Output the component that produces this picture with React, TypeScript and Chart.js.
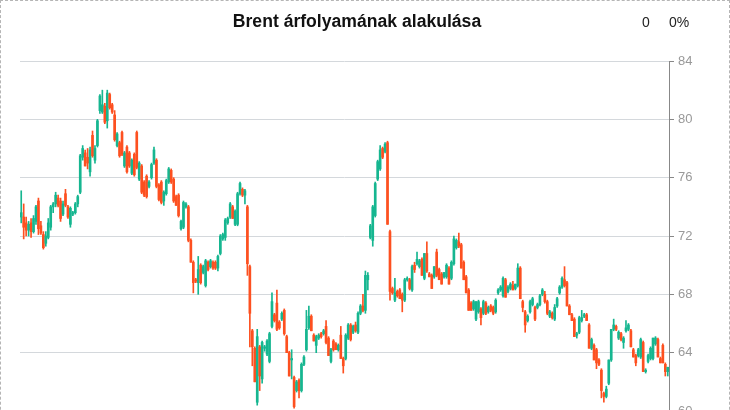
import React, { useEffect, useRef } from "react";
import { Chart, registerables } from "chart.js";

Chart.register(...registerables);

const opens = [
  73.3, 73.3, 72.9, 72.4, 72.9, 72.3, 73.0, 74.4, 72.7, 72.1,
  71.5, 71.9, 72.6, 74.0, 74.2, 74.6, 74.4, 73.5, 74.9, 74.0,
  72.8, 73.5, 73.6, 74.2, 75.0, 77.4, 77.7, 77.4, 76.4, 78.9,
  77.2, 78.2, 80.6, 80.5, 80.9, 79.9, 81.7, 81.0, 80.3,
  78.2, 78.4, 79.1, 76.8, 78.1, 77.7, 76.3, 77.6, 79.1,
  75.9, 76.8, 75.7, 76.1, 75.4, 76.0, 77.0, 77.2, 75.5, 75.7,
  74.4, 74.9, 75.7, 76.5, 75.9, 74.7, 74.8, 72.5, 72.6, 74.0,
  74.0, 71.7, 70.2, 69.0, 68.8, 70.0, 69.5, 68.6, 70.2, 69.9,
  70.2, 70.2, 69.8, 70.8, 71.8, 71.9, 72.9, 73.3, 74.0, 72.8,
  72.8, 74.9, 75.2, 74.8, 74.0, 69.9, 65.5, 64.3, 60.6, 64.4,
  62.2, 64.3, 63.9, 63.4, 65.8, 66.6, 67.4, 66.1, 66.3, 66.9,
  65.1, 64.0, 63.5, 62.3, 61.4, 62.1, 61.4, 63.2, 64.2, 65.7,
  66.5, 65.2, 64.5, 65.0, 65.3, 65.3, 65.8, 65.0, 63.4, 64.8, 64.6,
  64.2, 65.2, 63.6, 63.6, 65.0, 65.9, 65.4, 65.9, 65.4, 66.7, 67.2,
  66.9, 69.0, 71.9, 71.7, 73.4, 75.9, 76.6, 78.0, 77.8, 78.4,
  72.3, 68.4, 67.6, 68.2, 68.3, 68.0, 67.6, 69.0, 69.0, 68.3, 70.0,
  70.1, 69.9, 70.4, 69.1, 70.8, 69.4, 69.3, 69.2, 70.9, 69.7,
  69.4, 69.2, 69.2, 69.8, 69.1, 70.1, 71.2, 71.6, 71.4, 70.2,
  69.2, 68.3, 67.4, 67.0, 66.3, 66.8, 67.0, 66.7, 67.4, 66.8, 67.2,
  67.1, 66.8, 68.1, 68.3, 67.9, 69.0, 68.2, 68.4, 68.6, 68.4,
  68.6, 69.8, 67.5, 66.8, 66.2, 66.8, 67.3, 67.1, 67.1, 67.3,
  68.0, 68.0, 67.5, 66.5, 66.7, 66.3, 67.2, 68.1, 68.5, 69.0, 68.8,
  67.2, 66.6, 66.3, 65.2, 65.4, 66.2, 66.5, 66.6, 65.9, 64.3,
  64.5, 64.2, 63.5, 62.8, 61.2, 61.0, 61.9, 63.5, 65.6, 65.8,
  65.0, 65.3, 64.7, 65.5, 65.6, 65.5, 64.2, 63.8, 63.8,
  63.7, 64.7, 62.7, 63.4, 63.6, 63.6, 64.6, 64.9, 63.6,
  64.5, 63.2, 62.7,
];

const highs = [
  75.1, 74.2, 73.3, 73.0, 73.2, 73.4, 74.1, 74.6, 73.0, 72.3,
  72.3, 73.2, 74.1, 74.3, 75.0, 74.8, 74.6, 74.4, 75.2, 74.1,
  74.0, 73.7, 74.3, 74.8, 77.6, 78.2, 77.9, 78.0, 78.1, 79.2,
  78.2, 80.0, 81.7, 82.0, 81.1, 82.0, 81.8, 81.1, 80.6,
  79.1, 78.5, 79.2, 77.8, 78.2, 77.8, 77.3, 77.7, 79.2,
  77.1, 76.9, 75.8, 76.2, 75.8, 77.0, 78.1, 77.3, 75.6, 75.8,
  75.1, 75.9, 76.7, 76.6, 76.0, 74.8, 74.9, 73.1, 74.4, 74.3,
  74.1, 71.8, 70.3, 69.1, 70.6, 70.1, 70.0, 70.4, 70.3, 70.4,
  70.3, 70.3, 70.7, 72.1, 72.2, 73.2, 73.3, 74.3, 74.1, 73.8,
  75.0, 75.7, 75.3, 75.2, 74.1, 70.0, 65.6, 64.4, 65.6, 64.5,
  64.8, 64.5, 64.9, 65.4, 68.1, 66.7, 68.3, 66.2, 66.8, 67.0,
  65.2, 64.1, 64.2, 62.4, 62.1, 62.2, 63.3, 63.8, 66.9, 67.2,
  66.6, 65.3, 65.2, 65.3, 65.4, 65.6, 66.2, 65.1, 64.3, 64.9, 64.7,
  64.6, 65.8, 63.7, 65.3, 66.0, 66.0, 65.9, 66.1, 66.8, 67.3, 68.0,
  69.6, 69.5, 72.8, 74.1, 75.7, 77.2, 78.2, 78.1, 78.4, 78.5,
  72.4, 68.5, 69.1, 68.3, 68.4, 68.1, 69.1, 69.2, 69.1, 70.0, 70.2,
  70.9, 70.4, 70.5, 70.8, 71.6, 69.5, 69.4, 69.9, 71.1, 69.8,
  69.5, 69.5, 70.1, 69.9, 70.3, 72.0, 71.8, 72.2, 71.5, 70.3,
  69.3, 68.4, 67.5, 67.6, 67.5, 67.6, 67.1, 67.6, 67.5, 67.2, 67.3,
  67.2, 67.7, 68.4, 68.6, 69.2, 69.1, 68.6, 68.8, 68.9, 68.7,
  70.1, 69.9, 67.6, 66.9, 66.6, 67.6, 67.8, 67.2, 67.4, 68.0,
  68.4, 68.2, 67.6, 66.9, 66.8, 67.3, 67.8, 68.6, 69.2, 69.9, 68.9,
  67.3, 66.7, 66.4, 65.4, 66.5, 66.9, 66.7, 66.7, 66.0, 65.0,
  64.6, 64.3, 63.6, 62.9, 61.3, 61.7, 63.5, 65.6, 66.3, 65.9,
  65.5, 65.4, 65.1, 66.2, 66.0, 65.6, 64.3, 63.9, 64.3,
  65.0, 64.8, 62.9, 63.9, 64.4, 65.0, 65.1, 65.0, 63.7,
  64.6, 63.3, 63.0,
];

const lows = [
  72.9, 71.8, 72.0, 72.0, 71.9, 72.2, 72.8, 72.1, 72.1, 71.1,
  71.3, 71.8, 72.4, 73.6, 74.0, 74.0, 73.0, 73.4, 74.0, 73.2,
  72.6, 73.4, 73.5, 74.0, 74.9, 77.2, 76.8, 76.6, 76.1, 77.4,
  77.0, 78.1, 80.4, 80.4, 79.7, 79.4, 80.7, 80.4, 78.5,
  78.1, 77.4, 77.5, 76.7, 76.3, 76.7, 76.2, 76.1, 76.6,
  75.8, 74.9, 74.7, 74.6, 75.3, 75.9, 76.9, 75.3, 74.4, 74.2,
  74.1, 74.8, 75.6, 75.6, 74.3, 74.1, 73.3, 72.4, 72.5, 73.9,
  71.6, 70.2, 68.1, 68.8, 68.0, 68.7, 69.4, 68.5, 69.6, 69.8,
  69.7, 69.7, 69.6, 70.7, 71.7, 71.7, 72.8, 73.2, 73.2, 72.7,
  72.7, 74.8, 74.7, 74.2, 69.3, 64.4, 63.1, 62.0, 60.4, 61.4,
  61.9, 64.1, 63.8, 63.3, 65.7, 66.1, 65.5, 65.6, 66.2, 65.2,
  64.0, 62.4, 62.2, 60.2, 61.3, 60.9, 61.3, 63.1, 64.1, 65.6,
  65.5, 64.8, 64.0, 64.9, 65.0, 65.2, 64.6, 63.8, 63.3, 64.1, 64.2,
  64.1, 63.6, 62.6, 63.5, 64.9, 64.8, 65.3, 65.4, 65.3, 66.6, 66.8,
  66.7, 68.3, 71.8, 71.3, 73.3, 75.8, 76.5, 77.3, 77.7, 72.8,
  67.6, 68.0, 67.5, 67.8, 67.7, 66.8, 67.5, 68.9, 68.3, 68.2, 69.5,
  70.0, 69.8, 69.3, 69.0, 69.5, 69.2, 68.4, 69.1, 69.2, 69.0,
  68.7, 69.1, 69.1, 68.7, 69.0, 70.0, 71.1, 71.2, 69.8, 69.0,
  68.1, 66.9, 66.9, 66.9, 66.2, 66.7, 65.9, 66.6, 66.6, 66.7, 66.8,
  66.6, 66.7, 68.0, 68.2, 67.8, 67.8, 68.1, 68.3, 68.3, 68.3,
  68.5, 67.7, 66.8, 65.4, 66.1, 66.7, 67.2, 66.2, 67.0, 67.2,
  67.9, 67.4, 66.6, 66.4, 66.3, 66.2, 67.1, 68.0, 68.4, 68.5, 67.2,
  66.6, 66.2, 65.1, 65.0, 65.3, 66.1, 66.4, 66.2, 64.3, 64.2,
  63.5, 62.9, 63.1, 60.9, 60.6, 60.9, 61.8, 63.4, 65.5, 65.5,
  64.9, 64.8, 64.3, 65.4, 65.5, 64.4, 63.7, 63.1, 63.7,
  63.6, 62.7, 62.6, 63.3, 63.5, 63.5, 64.5, 63.7, 63.3,
  63.3, 62.4, 62.4,
];

const closes = [
  73.6, 72.6, 72.4, 72.8, 72.3, 73.2, 74.0, 72.5, 72.2, 71.2,
  72.0, 72.9, 74.0, 74.2, 74.8, 74.1, 73.2, 74.2, 74.1, 73.3,
  73.9, 73.6, 74.2, 74.7, 77.5, 78.0, 76.8, 77.0, 77.9, 77.5,
  78.0, 79.9, 81.6, 81.0, 79.8, 81.8, 80.8, 80.5, 78.6,
  79.0, 77.5, 77.6, 77.7, 76.4, 76.8, 77.2, 76.2, 76.7,
  77.0, 75.0, 74.8, 74.7, 75.7, 76.9, 77.9, 75.4, 74.5, 74.3,
  75.0, 75.8, 76.6, 75.7, 74.4, 74.1, 73.4, 73.0, 74.3, 74.2,
  71.7, 70.2, 68.8, 68.9, 69.7, 68.8, 69.9, 70.3, 69.7, 70.3,
  69.8, 69.8, 70.6, 72.0, 72.1, 73.1, 73.2, 74.2, 73.2, 73.7,
  74.9, 75.6, 74.8, 75.1, 70.1, 66.7, 64.4, 62.0, 65.1, 62.4,
  64.7, 64.4, 64.8, 65.3, 67.5, 66.2, 65.6, 65.7, 66.7, 65.3,
  64.0, 62.4, 63.6, 60.3, 62.0, 61.4, 63.2, 63.7, 65.6, 66.5,
  65.5, 64.8, 65.1, 65.2, 65.1, 65.5, 64.7, 63.8, 64.2, 64.2, 64.2,
  64.5, 63.6, 63.1, 65.2, 65.9, 64.9, 65.8, 65.5, 66.7, 67.2, 66.9,
  69.3, 69.3, 72.7, 74.0, 75.6, 77.1, 77.9, 77.4, 78.3, 72.8,
  68.2, 68.1, 68.1, 67.9, 67.7, 67.6, 69.0, 69.1, 68.4, 69.9, 69.7,
  70.4, 70.3, 69.3, 70.8, 69.6, 69.2, 68.4, 69.9, 69.3, 69.0,
  68.7, 69.5, 70.0, 68.7, 70.2, 71.8, 71.7, 71.3, 69.8, 69.0,
  68.1, 66.9, 66.9, 67.5, 67.5, 67.5, 66.4, 67.5, 66.7, 67.1, 66.9,
  66.7, 67.6, 68.3, 68.5, 69.1, 67.8, 68.5, 68.7, 68.3, 68.7,
  69.8, 67.7, 67.1, 65.9, 66.5, 67.5, 67.7, 66.3, 67.3, 67.9,
  68.3, 67.5, 66.7, 66.8, 66.4, 67.1, 67.7, 68.5, 69.1, 68.6, 67.2,
  66.6, 66.2, 65.1, 65.3, 66.4, 66.4, 66.6, 66.2, 64.3, 64.9,
  63.5, 63.3, 63.2, 61.4, 61.0, 61.5, 63.5, 65.6, 65.9, 65.6,
  65.4, 64.9, 65.0, 65.7, 65.9, 64.4, 63.7, 63.3, 64.2,
  64.9, 62.7, 62.8, 63.8, 64.3, 65.0, 65.0, 63.7, 63.3,
  63.3, 62.7, 63.0,
];

const yTicks = [60, 64, 68, 72, 76, 80, 84];
const titleText = "Brent árfolyamának alakulása";
const changeValue = "0";
const changePercent = "0%";

const UP = "#16b690";
const DOWN = "#fd5020";

export default function App() {
  const ref = useRef<HTMLCanvasElement | null>(null);

  useEffect(() => {
    if (!ref.current) return;
    const labels = opens.map((_, i) => String(i + 1));
    const colors = opens.map((o, i) => (closes[i] >= o ? UP : DOWN));
    const chart = new Chart(ref.current, {
      type: "bar",
      data: {
        labels,
        datasets: [
          {
            label: "body",
            data: opens.map((o, i) => [o, closes[i]]) as any,
            backgroundColor: colors,
            borderWidth: 0,
            barThickness: 2,
            minBarLength: 1,
            grouped: false,
          } as any,
          {
            label: "wick",
            data: lows.map((l, i) => [l, highs[i]]) as any,
            backgroundColor: colors,
            borderWidth: 0,
            barThickness: 1,
            grouped: false,
          } as any,
        ],
      },
      options: {
        animation: false,
        responsive: false,
        maintainAspectRatio: false,
        layout: { padding: { left: 20, top: 61, right: 0, bottom: 59 } },
        plugins: {
          legend: { display: false },
          title: { display: false },
          tooltip: { enabled: false },
        },
        scales: {
          x: { display: false, offset: true },
          y: {
            position: "right",
            min: 60,
            max: 84,
            afterBuildTicks: (scale: any) => {
              scale.ticks = yTicks.map((v) => ({ value: v }));
            },
            afterFit: (scale: any) => {
              scale.width = 61;
            },
            ticks: {
              color: "#999",
              padding: 4,
              font: { family: "'Liberation Sans', Arial, sans-serif", size: 13 },
            },
            grid: {
              color: "#d4d8dc",
              tickColor: "#888",
              tickLength: 5,
              lineWidth: 1,
            },
            border: { color: "#888", width: 1 },
          },
        },
      },
    });
    return () => chart.destroy();
  }, []);

  return (
    <div
      style={{
        position: "absolute",
        left: 0,
        top: 0,
        width: 730,
        height: 470,
        boxSizing: "border-box",
        border: "1px dashed #b5b5b5",
        fontFamily: "'Liberation Sans', Arial, sans-serif",
      }}
    >
      <canvas
        ref={ref}
        width={730}
        height={470}
        style={{ position: "absolute", left: -1, top: -1, width: 730, height: 470 }}
      />
      <div
        style={{
          position: "absolute",
          left: -1,
          top: 10,
          width: 714,
          textAlign: "center",
          fontWeight: "bold",
          fontSize: 17.6,
          lineHeight: "20px",
          color: "#111",
        }}
      >
        {titleText}
      </div>
      <div
        style={{
          position: "absolute",
          left: 641,
          top: 12,
          fontSize: 14,
          lineHeight: "18px",
          color: "#222",
        }}
      >
        {changeValue}
      </div>
      <div
        style={{
          position: "absolute",
          left: 668,
          top: 12,
          fontSize: 14,
          lineHeight: "18px",
          color: "#222",
        }}
      >
        {changePercent}
      </div>
    </div>
  );
}
